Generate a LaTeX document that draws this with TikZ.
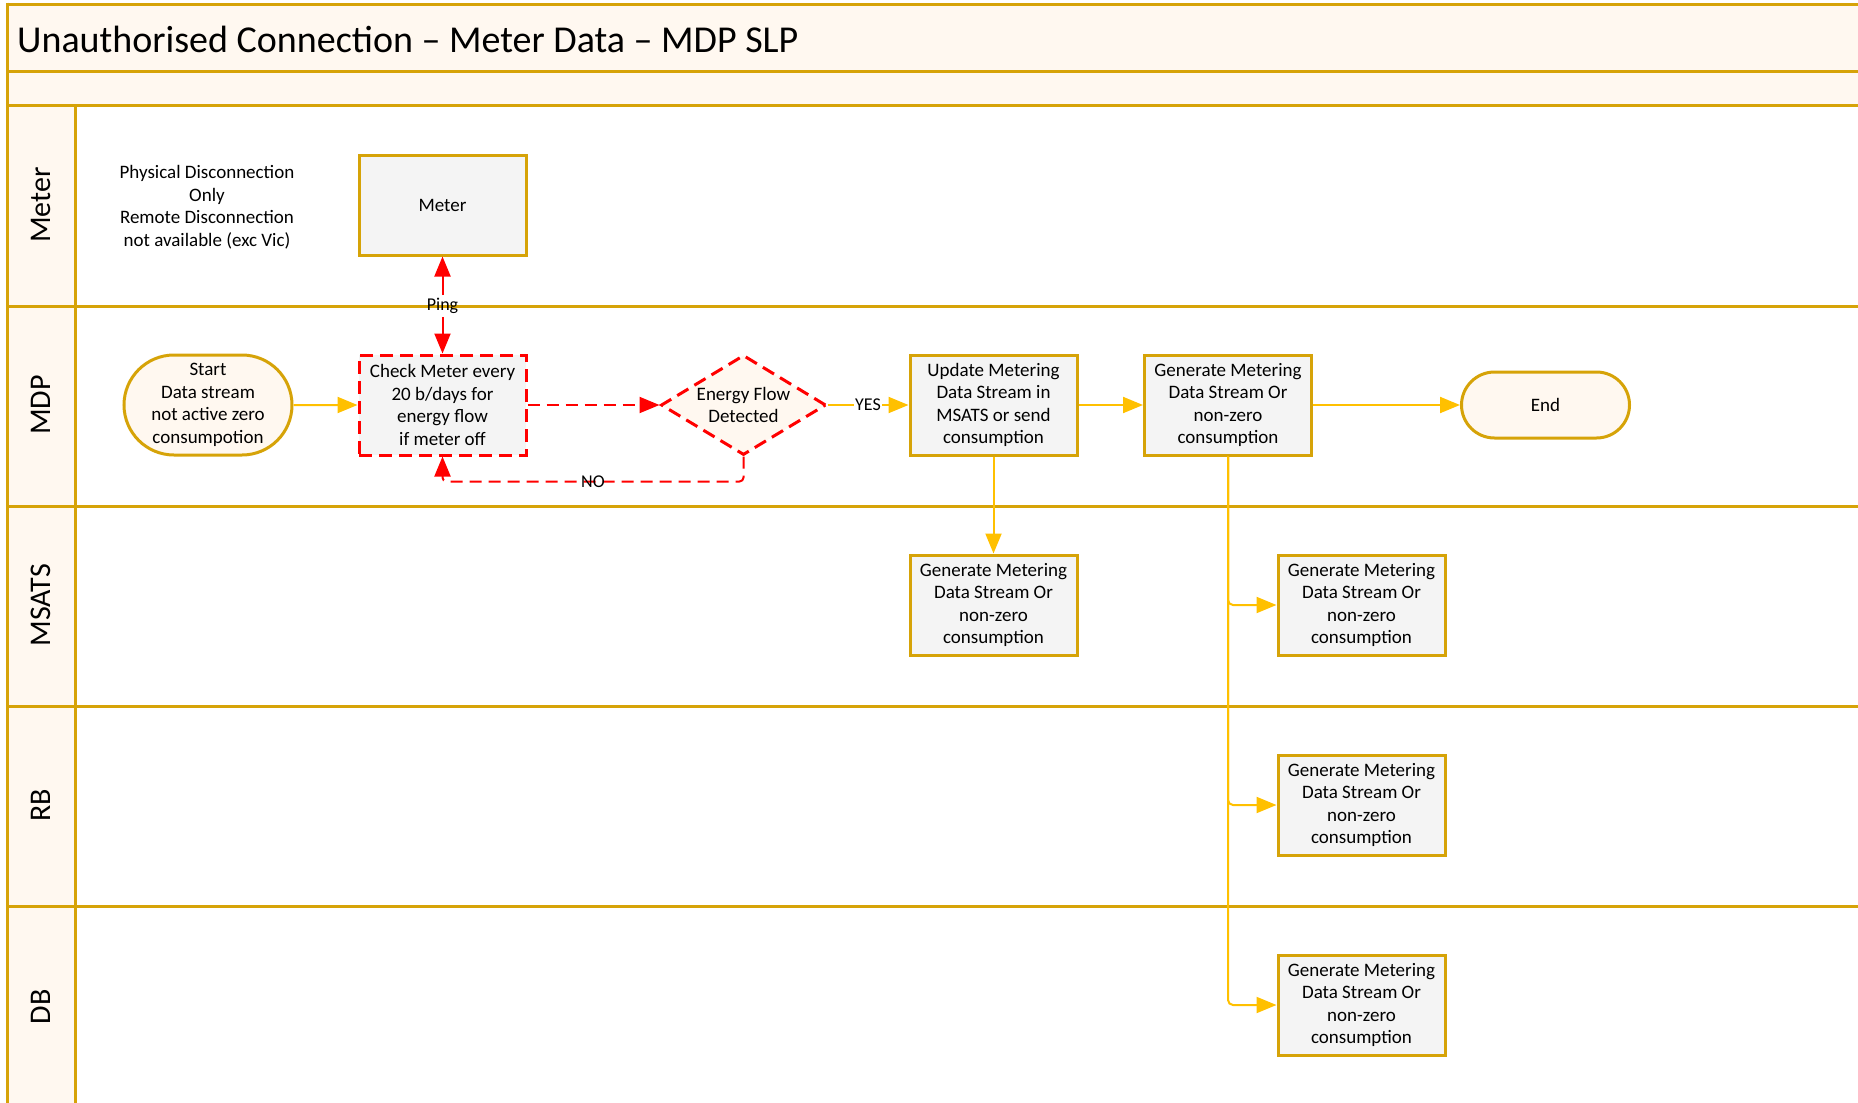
\documentclass[tikz,border=0pt]{standalone}
\usepackage{fontspec}
\setmainfont{Carlito}
\usetikzlibrary{arrows.meta,shapes.geometric,shapes.misc}
\definecolor{gold}{RGB}{214,163,8}
\definecolor{cream}{RGB}{255,248,240}
\definecolor{boxgrey}{RGB}{244,244,244}
\definecolor{ylw}{RGB}{255,192,0}
\definecolor{rd}{RGB}{255,0,0}
\tikzset{
  lane/.style={draw=gold,line width=3pt},
  txt/.style={font=\fontsize{19pt}{22.5pt}\selectfont,align=center,text=black},
  lanelbl/.style={font=\fontsize{30pt}{32pt}\selectfont,rotate=90,text=black},
  procbox/.style={txt,draw=gold,line width=3pt,fill=boxgrey,minimum width=167pt,minimum height=100pt,inner sep=0pt},
  checkbox/.style={txt,draw=rd,line width=3pt,dash pattern=on 13pt off 7pt,fill=boxgrey,minimum width=167pt,minimum height=100pt,inner sep=0pt},
  term/.style={txt,rounded rectangle,draw=gold,line width=3pt,fill=cream,minimum width=168pt,inner sep=0pt},
  decis/.style={txt,diamond,draw=rd,line width=3pt,dash pattern=on 13pt off 7pt,fill=cream,minimum width=165pt,minimum height=100pt,aspect=1.65,inner sep=0pt},
  yline/.style={draw=ylw,line width=2pt,-{Triangle[length=20pt,width=16pt]}},
  rline/.style={draw=rd,line width=2pt,-{Triangle[length=20pt,width=16pt]}},
  rdash/.style={draw=rd,line width=2pt,dash pattern=on 12pt off 7pt,-{Triangle[length=20pt,width=16pt]}},
  lbl/.style={font=\fontsize{18pt}{20pt}\selectfont,text=black,inner sep=1pt},
}
\begin{document}
\begin{tikzpicture}[x=1pt,y=-1pt]
\useasboundingbox (0,0) rectangle (1858,1103);
% backgrounds
\fill[cream] (7,4) rectangle (1858,105);
\fill[cream] (7,105) rectangle (75,1103);
% lane lines
\foreach \yy in {4,71,105,306,506,706,906} {\draw[lane] (7,\yy) -- (1858,\yy);}
\draw[lane] (7,2.5) -- (7,1103);
\draw[lane] (75,105) -- (75,1103);
% title
\node[anchor=west,font=\fontsize{38pt}{40pt}\selectfont,inner sep=0pt] (title) at (17,39) {Unauthorised Connection – Meter Data – MDP SLP};
% lane labels
\node[lanelbl] (lmeter) at (41,205) {Meter};
\node[lanelbl] (lmdp) at (41,405) {MDP};
\node[lanelbl] (lmsats) at (41,605) {MSATS};
\node[lanelbl] (lrb) at (41,805) {RB};
\node[lanelbl] (ldb) at (41,1007) {DB};
% nodes
\node[txt] (note) at (207,207) {Physical Disconnection\\Only\\Remote Disconnection\\not available (exc Vic)};
\node[procbox] (meter) at (442.5,205) {Meter};
\node[term,minimum height=100pt] (start) at (208,405) {Start\\Data stream\\not active zero\\consumpotion};
\node[checkbox] (check) at (442.5,405) {Check Meter every\\20 b/days for\\energy flow\\if meter off};
\node[decis] (dia) at (743.5,405) {Energy Flow\\Detected};
\node[procbox] (upd) at (993.5,405) {Update Metering\\Data Stream in\\MSATS or send\\consumption};
\node[procbox] (gen) at (1228,405) {Generate Metering\\Data Stream Or\\non-zero\\consumption};
\node[term,minimum height=66pt] (end) at (1545.5,405) {End};
\node[procbox] (ms1) at (993.5,605) {Generate Metering\\Data Stream Or\\non-zero\\consumption};
\node[procbox] (ms2) at (1361.5,605) {Generate Metering\\Data Stream Or\\non-zero\\consumption};
\node[procbox] (rb) at (1361.5,805) {Generate Metering\\Data Stream Or\\non-zero\\consumption};
\node[procbox] (db) at (1361.5,1005) {Generate Metering\\Data Stream Or\\non-zero\\consumption};
% ping label
\node[lbl,inner sep=3pt] (ping) at (442.5,306) {Ping};
% connectors
\draw[yline] (start) -- (check);
\draw[rline] (ping) -- (meter);
\draw[rline] (ping) -- (check);
\draw[rdash] (check) -- (dia);
\draw[rdash,rounded corners=4pt] (dia.south) -- ++(0,25) -| node[lbl,pos=0.25] {NO} (check.south);
\draw[yline] (dia.east) -- node[lbl,fill=white] {YES} (upd.west);
\draw[yline] (upd) -- (gen);
\draw[yline] (gen) -- (end);
\draw[yline] (upd) -- (ms1);
\draw[yline,rounded corners=5pt] (gen.south) |- (ms2.west);
\draw[yline,rounded corners=5pt] (gen.south) |- (rb.west);
\draw[yline,rounded corners=5pt] (gen.south) |- (db.west);
\end{tikzpicture}
\end{document}
